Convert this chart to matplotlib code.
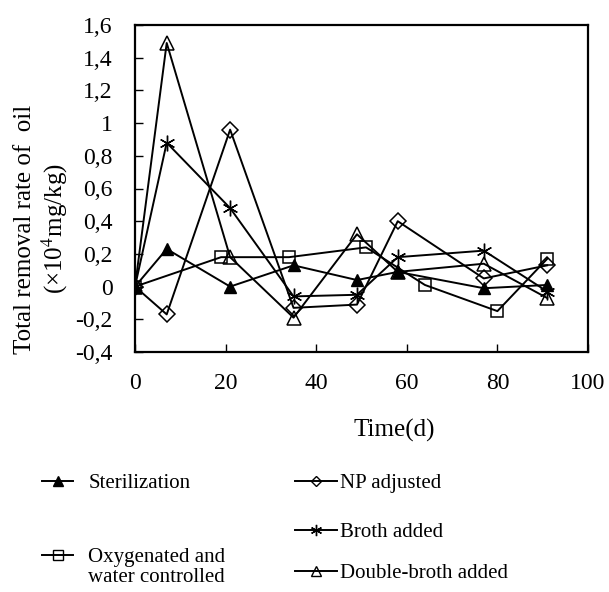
import matplotlib
matplotlib.use("Agg")
import matplotlib.pyplot as plt
from matplotlib.lines import Line2D

plt.rcParams['font.family'] = ['Liberation Serif', 'DejaVu Serif']
plt.rcParams['mathtext.fontset'] = 'stix'

# ---- data ----
days = [0, 7, 21, 35, 49, 58, 77, 91]
sterilization = [0, 0.23, 0.00, 0.13, 0.04, 0.09, -0.01, 0.01]
np_adjusted = [0, -0.17, 0.96, -0.13, -0.11, 0.40, 0.05, 0.13]
broth_added = [0, 0.88, 0.48, -0.06, -0.05, 0.18, 0.22, -0.03]
double_broth = [0, 1.49, 0.18, -0.19, 0.32, 0.09, 0.14, -0.07]
days_oxy = [0, 19, 34, 51, 64, 80, 91]
oxygenated = [0, 0.18, 0.18, 0.24, 0.01, -0.15, 0.17]

xticks = [0, 20, 40, 60, 80, 100]
yticks = [-0.4, -0.2, 0, 0.2, 0.4, 0.6, 0.8, 1.0, 1.2, 1.4, 1.6]
ytick_labels = ["-0,4", "-0,2", "0", "0,2", "0,4", "0,6", "0,8", "1", "1,2", "1,4", "1,6"]

W, H = 609, 592
fig = plt.figure(figsize=(W / 100, H / 100), dpi=100)
ax = fig.add_axes([135 / W, 1 - 352 / H, (588 - 135) / W, (352 - 25) / H])

lw = 1.4
ms = 9
ax.plot(days, sterilization, color='k', lw=lw, marker='^', ms=ms, mfc='k', mec='k', zorder=3)
ax.plot(days, np_adjusted, color='k', lw=lw, marker='D', ms=ms * 0.9, mfc='none', mec='k', mew=1.1, zorder=3)
ax.plot(days, broth_added, color='k', lw=lw, marker=(6, 2, 0), ms=ms * 1.25, mec='k', mew=1.0, zorder=3)
ax.plot(days_oxy, oxygenated, color='k', lw=lw, marker='s', ms=ms, mfc='none', mec='k', mew=1.1, zorder=3)
ax.plot(days, double_broth, color='k', lw=lw, marker='^', ms=ms * 1.05, mfc='none', mec='k', mew=1.1, zorder=3)

ax.set_xlim(0, 100)
ax.set_ylim(-0.4, 1.6)
ax.set_xticks(xticks)
ax.set_xticklabels([str(v) for v in xticks])
ax.set_yticks(yticks)
ax.set_yticklabels(ytick_labels)
ax.tick_params(direction='in', length=6, width=1.0, labelsize=17)
ax.tick_params(axis='x', pad=15)
ax.tick_params(axis='y', pad=16)
for s in ax.spines.values():
    s.set_linewidth(1.6)

ax.set_xlabel("Time(d)", fontsize=18, va='center')
ax.xaxis.set_label_coords((394 - 135) / 453, -(430 - 352) / 327)
ax.set_ylabel("Total removal rate of  oil\n(×10$^{4}$mg/kg)", fontsize=18,
              va='center', ha='center', linespacing=1.2)
ax.yaxis.set_label_coords((42 - 135) / 453, (352 - 229) / 327)

# ---- legend (custom layout) ----
def entry(label, x, y, hl, tp, **kw):
    h = Line2D([], [], color='k', lw=lw, **kw)
    lg = fig.legend(handles=[h], labels=[label], loc='center left',
                    bbox_to_anchor=(x / W, 1 - y / H), frameon=False,
                    borderpad=0, borderaxespad=0, handlelength=hl,
                    handletextpad=tp, fontsize=15, markerscale=0.75)
    return lg

entry("Sterilization", 42, 483, 1.5, 0.72, marker='^', ms=ms, mfc='k', mec='k')
entry("NP adjusted", 295, 483, 2.0, 0.15, marker='D', ms=ms * 0.8, mfc='none', mec='k')
entry("Broth added", 295, 532, 2.0, 0.15, marker=(6, 2, 0), ms=ms * 1.2, mec='k', mew=1.0)
entry("Oxygenated and", 42, 557, 1.5, 0.72, marker='s', ms=ms, mfc='none', mec='k')
fig.text(88 / W, 1 - 577 / H, "water controlled", fontsize=15, ha='left', va='center')
entry("Double-broth added", 295, 573, 2.0, 0.15, marker='^', ms=ms, mfc='none', mec='k')

fig.savefig("out.png", dpi=100)
